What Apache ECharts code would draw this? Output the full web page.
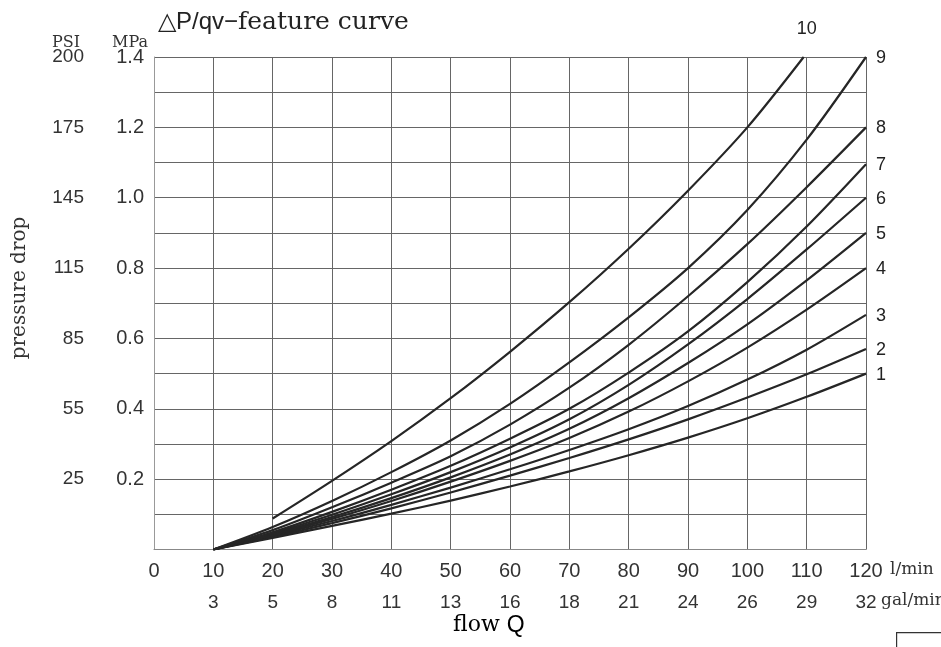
<!DOCTYPE html>
<html>
<head>
<meta charset="utf-8">
<script src="https://cdn.jsdelivr.net/npm/echarts@6/dist/echarts.min.js"></script>
<style>html,body{margin:0;padding:0;background:#fff}#c{width:941px;height:647px}</style>
</head>
<body>
<div id="c"></div>
<script>
// ---- data ----
const flow = [10, 20, 30, 40, 50, 60, 70, 80, 90, 100, 110, 120];
const flow10 = [20, 30, 40, 50, 60, 70, 80, 90, 100, 109.5];
const curve1 = [0, 0.033, 0.067, 0.102, 0.139, 0.179, 0.222, 0.268, 0.318, 0.373, 0.434, 0.500];
const curve2 = [0, 0.036, 0.075, 0.117, 0.162, 0.210, 0.260, 0.313, 0.370, 0.432, 0.498, 0.570];
const curve3 = [0, 0.039, 0.081, 0.127, 0.176, 0.228, 0.283, 0.342, 0.408, 0.483, 0.568, 0.667];
const curve4 = [0, 0.041, 0.087, 0.138, 0.193, 0.252, 0.317, 0.392, 0.478, 0.574, 0.682, 0.800];
const curve5 = [0, 0.043, 0.092, 0.146, 0.205, 0.270, 0.343, 0.430, 0.530, 0.640, 0.765, 0.900];
const curve6 = [0, 0.046, 0.099, 0.157, 0.220, 0.290, 0.370, 0.468, 0.583, 0.712, 0.853, 1.000];
const curve7 = [0, 0.049, 0.107, 0.170, 0.238, 0.315, 0.400, 0.503, 0.620, 0.760, 0.918, 1.095];
const curve8 = [0, 0.055, 0.120, 0.190, 0.265, 0.355, 0.460, 0.582, 0.720, 0.868, 1.030, 1.200];
const curve9 = [0, 0.064, 0.138, 0.220, 0.310, 0.414, 0.532, 0.660, 0.800, 0.965, 1.165, 1.400];
const curve10 = [0.088, 0.195, 0.308, 0.430, 0.562, 0.703, 0.855, 1.020, 1.200, 1.400];
const curveNames = ['1', '2', '3', '4', '5', '6', '7', '8', '9', '10'];
const galLabels = ['', '3', '5', '8', '11', '13', '16', '18', '21', '24', '26', '29', '32'];
const psiLabels = ['', '25', '55', '85', '115', '145', '175', '200'];

const curves = [curve1, curve2, curve3, curve4, curve5, curve6, curve7, curve8, curve9, curve10];

const chart = echarts.init(document.getElementById('c'), null, {renderer: 'canvas'});
const sans = "'Liberation Sans', Arial, sans-serif";
const serif = "'DejaVu Serif', 'Liberation Serif', serif";

const series = curves.map((vals, i) => {
  const xs = i === 9 ? flow10 : flow;
  return {
    type: 'line',
    name: curveNames[i],
    data: vals.map((v, j) => [xs[j], v]),
    smooth: 0.3,
    symbol: 'none',
    lineStyle: {color: '#262626', width: 2.2},
    z: 5,
    endLabel: {
      show: true,
      formatter: curveNames[i],
      color: '#222',
      fontFamily: sans,
      fontSize: 18,
      distance: i === 9 ? 0 : 10,
      offset: i === 9 ? [-7, -28] : [0, 1]
    }
  };
});

chart.setOption({
  animation: false,
  backgroundColor: '#fff',
  title: {
    text: '{a|△P/qv−}{b|feature curve}',
    left: 153, top: 5,
    textStyle: {
      rich: {
        a: {fontFamily: sans, fontSize: 24, color: '#222', fontWeight: 'normal'},
        b: {fontFamily: serif, fontSize: 25, color: '#222', fontWeight: 'normal'}
      }
    }
  },
  grid: {left: 154, right: 75, top: 57, bottom: 97.5, containLabel: false},
  xAxis: [{
    type: 'value', min: 0, max: 120, interval: 10,
    position: 'bottom',
    axisLine: {show: true, lineStyle: {color: '#888', width: 1}},
    axisTick: {show: false},
    splitLine: {show: true, lineStyle: {color: '#666', width: 1}},
    axisLabel: {color: '#333', fontFamily: sans, fontSize: 20, margin: 12}
  }, {
    type: 'value', min: 0, max: 120, interval: 10,
    position: 'bottom', offset: 32,
    axisLine: {show: false}, axisTick: {show: false}, splitLine: {show: false},
    axisLabel: {
      color: '#333', fontFamily: sans, fontSize: 19, margin: 12,
      formatter: v => galLabels[Math.round(v / 10)]
    }
  }],
  yAxis: [{
    type: 'value', min: 0, max: 1.4, interval: 0.1,
    position: 'left',
    axisLine: {show: true, lineStyle: {color: '#999', width: 1}},
    axisTick: {show: false},
    splitLine: {show: true, lineStyle: {color: '#666', width: 1}},
    axisLabel: {
      color: '#333', fontFamily: sans, fontSize: 20, margin: 10,
      formatter: v => {
        const k = Math.round(v * 10);
        return (k > 0 && k % 2 === 0) ? (k / 10).toFixed(1) : '';
      }
    }
  }, {
    type: 'value', min: 0, max: 1.4, interval: 0.2,
    position: 'left', offset: 60,
    axisLine: {show: false}, axisTick: {show: false}, splitLine: {show: false},
    axisLabel: {
      color: '#333', fontFamily: sans, fontSize: 19, margin: 10,
      formatter: v => psiLabels[Math.round(v / 0.2)]
    }
  }],
  graphic: [
    {type: 'text', left: 52, top: 35, style: {text: 'PSI', fontFamily: serif, fontSize: 16, fill: '#333'}},
    {type: 'text', left: 112, top: 35, style: {text: 'MPa', fontFamily: serif, fontSize: 16, fill: '#333'}},
    {type: 'text', x: 20, y: 288, rotation: Math.PI / 2,
      style: {text: 'pressure drop', fontFamily: serif, fontSize: 20, fill: '#333', align: 'center', verticalAlign: 'middle'}},
    {type: 'text', left: 890, top: 561, style: {text: 'l/min', fontFamily: serif, fontSize: 17, fill: '#333'}},
    {type: 'text', left: 881, top: 592, style: {text: 'gal/min', fontFamily: serif, fontSize: 17, fill: '#333'}},
    {type: 'text', left: 453, top: 614, style: {
      text: '{s|flow }{q|Q}',
      rich: {s: {fontFamily: serif, fontSize: 22, color: '#333'}, q: {fontFamily: sans, fontSize: 23, color: '#333'}}
    }},
    {type: 'rect', left: 896, top: 632, shape: {width: 60, height: 30}, style: {fill: '#fff', stroke: '#333', lineWidth: 1.2}}
  ],
  series: series
});
</script>
</body>
</html>
